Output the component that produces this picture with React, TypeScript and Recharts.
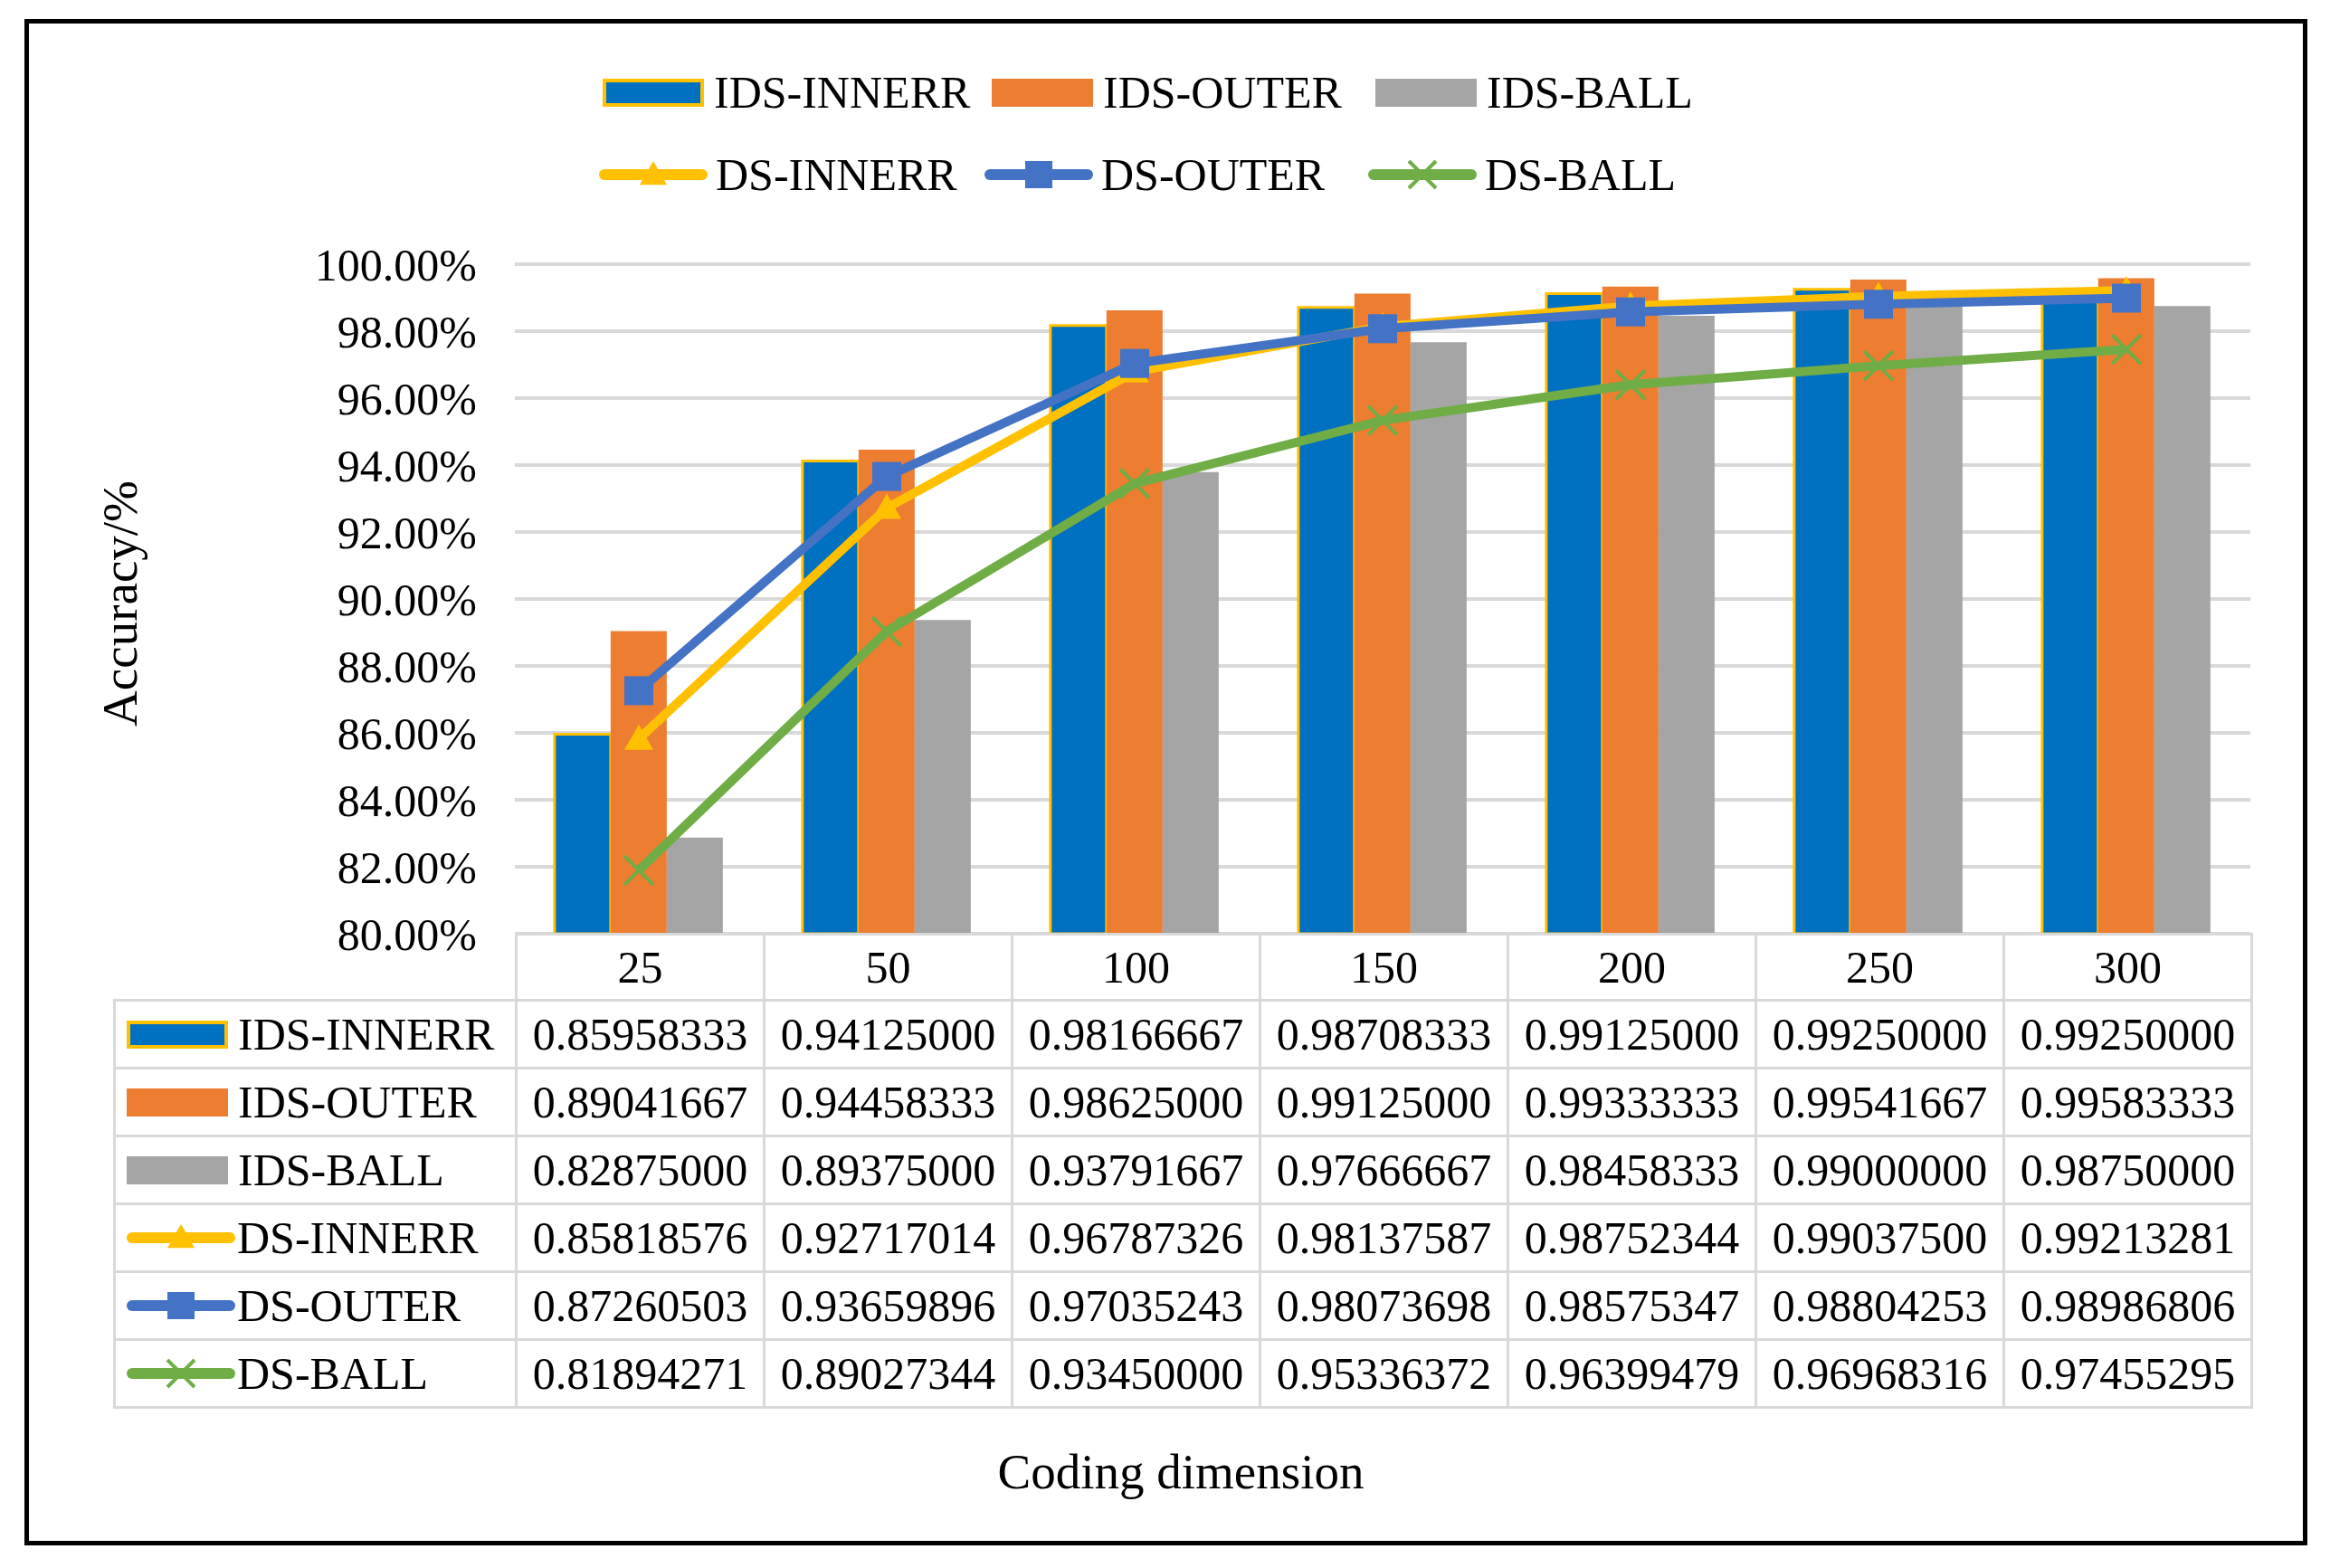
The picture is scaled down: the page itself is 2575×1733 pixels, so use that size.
import React from "react";
import { ComposedChart, Bar, Line, XAxis, YAxis, CartesianGrid } from "recharts";

// coding dimensions (x categories)
const categories = ["25", "50", "100", "150", "200", "250", "300"];

// bar series
const idsInnerr = [0.85958333, 0.94125, 0.98166667, 0.98708333, 0.99125, 0.9925, 0.9925];
const idsOuter = [0.89041667, 0.94458333, 0.98625, 0.99125, 0.99333333, 0.99541667, 0.99583333];
const idsBall = [0.82875, 0.89375, 0.93791667, 0.97666667, 0.98458333, 0.99, 0.9875];

// line series
const dsInnerr = [0.85818576, 0.92717014, 0.96787326, 0.98137587, 0.98752344, 0.990375, 0.99213281];
const dsOuter = [0.87260503, 0.93659896, 0.97035243, 0.98073698, 0.98575347, 0.98804253, 0.98986806];
const dsBall = [0.81894271, 0.89027344, 0.9345, 0.95336372, 0.96399479, 0.96968316, 0.97455295];

const yTicks = [0.8, 0.82, 0.84, 0.86, 0.88, 0.9, 0.92, 0.94, 0.96, 0.98, 1.0];

const FONT = '"Liberation Serif", "Times New Roman", serif';

const data = categories.map((dim, i) => ({
  dim,
  idsInnerr: idsInnerr[i],
  idsOuter: idsOuter[i],
  idsBall: idsBall[i],
  dsInnerr: dsInnerr[i],
  dsOuter: dsOuter[i],
  dsBall: dsBall[i],
}));

type Marker = "bar" | "triangle" | "square" | "cross";

const series = [
  { key: "idsInnerr", name: "IDS-INNERR", values: idsInnerr, color: "#0070C0", marker: "bar" as Marker, edge: "#FFC000" },
  { key: "idsOuter", name: "IDS-OUTER", values: idsOuter, color: "#ED7D31", marker: "bar" as Marker },
  { key: "idsBall", name: "IDS-BALL", values: idsBall, color: "#A5A5A5", marker: "bar" as Marker },
  { key: "dsInnerr", name: "DS-INNERR", values: dsInnerr, color: "#FFC000", marker: "triangle" as Marker },
  { key: "dsOuter", name: "DS-OUTER", values: dsOuter, color: "#4472C4", marker: "square" as Marker },
  { key: "dsBall", name: "DS-BALL", values: dsBall, color: "#70AD47", marker: "cross" as Marker },
];

const markerShape = (marker: Marker, cx: number, cy: number, color: string, s: number) => {
  if (marker === "triangle") {
    return <path d={`M${cx},${cy - s} L${cx + s},${cy + s * 0.75} L${cx - s},${cy + s * 0.75} Z`} fill={color} />;
  }
  if (marker === "square") {
    return <rect x={cx - s} y={cy - s} width={s * 2} height={s * 2} fill={color} />;
  }
  return (
    <path
      d={`M${cx - s},${cy - s} L${cx + s},${cy + s} M${cx - s},${cy + s} L${cx + s},${cy - s}`}
      stroke={color}
      strokeWidth={4}
      fill="none"
    />
  );
};

const makeDot = (marker: Marker, color: string) => (props: any) => {
  const { cx, cy, index } = props;
  if (cx == null || cy == null) return <g key={`d-${index}`} />;
  return <g key={`d-${marker}-${index}`}>{markerShape(marker, cx, cy, color, 16)}</g>;
};

const Swatch = ({ s }: { s: (typeof series)[number] }) => {
  if (s.marker === "bar") {
    return (
      <div
        style={{
          width: 112,
          height: 31,
          boxSizing: "border-box",
          background: s.color,
          border: s.edge ? `4px solid ${s.edge}` : "none",
          flex: "none",
        }}
      />
    );
  }
  return (
    <svg width={120} height={40} style={{ flex: "none", display: "block" }}>
      <line x1={6} y1={20} x2={114} y2={20} stroke={s.color} strokeWidth={12} strokeLinecap="round" />
      {markerShape(s.marker, 60, 20, s.color, 15)}
    </svg>
  );
};

const LegendItem = ({ s, left, cy }: { s: (typeof series)[number]; left: number; cy: number }) => (
  <div
    style={{
      position: "absolute",
      left,
      top: cy - 30,
      height: 60,
      display: "flex",
      alignItems: "center",
      gap: s.marker === "bar" ? 11 : 9,
      fontFamily: FONT,
      fontSize: 50,
      color: "#000",
      whiteSpace: "nowrap",
    }}
  >
    <Swatch s={s} />
    <span>{s.name}</span>
  </div>
);

const legendX = [666, 1096, 1520];
const lineLegendX = [662, 1088, 1512];

const cellBorder = "3px solid #D9D9D9";

export default function App() {
  return (
    <div
      style={{
        position: "absolute",
        left: 0,
        top: 0,
        width: 2575,
        height: 1733,
        background: "#fff",
        overflow: "hidden",
      }}
    >
      <div
        style={{
          position: "absolute",
          left: 27,
          top: 21,
          width: 2523,
          height: 1687,
          border: "5px solid #000",
          boxSizing: "border-box",
        }}
      />

      {series.slice(0, 3).map((s, i) => (
        <LegendItem key={s.key} s={s} left={legendX[i]} cy={102} />
      ))}
      {series.slice(3).map((s, i) => (
        <LegendItem key={s.key} s={s} left={lineLegendX[i]} cy={193} />
      ))}

      <div style={{ position: "absolute", left: 0, top: 0 }}>
        <ComposedChart
          width={2575}
          height={1100}
          data={data}
          margin={{ top: 292, right: 88, bottom: 68, left: 369 }}
          barCategoryGap="16%"
          barGap={0}
        >
          <CartesianGrid vertical={false} stroke="#D9D9D9" strokeWidth={4} />
          <XAxis dataKey="dim" hide />
          <YAxis
            width={200}
            domain={[0.8, 1]}
            ticks={yTicks}
            allowDataOverflow
            axisLine={false}
            tickLine={false}
            tickMargin={36}
            tickFormatter={(v: number) => `${(v * 100).toFixed(2)}%`}
            tick={{ fontSize: 50, fill: "#000", fontFamily: FONT }}
          />
          {series
            .filter((s) => s.marker === "bar")
            .map((s) => (
              <Bar
                key={s.key}
                dataKey={s.key}
                name={s.name}
                fill={s.color}
                stroke={s.edge || "none"}
                strokeWidth={s.edge ? 3 : 0}
                isAnimationActive={false}
              />
            ))}
          {series
            .filter((s) => s.marker !== "bar")
            .map((s) => (
              <Line
                key={s.key}
                dataKey={s.key}
                name={s.name}
                type="linear"
                stroke={s.color}
                strokeWidth={10}
                dot={makeDot(s.marker, s.color)}
                activeDot={false}
                isAnimationActive={false}
              />
            ))}
        </ComposedChart>
      </div>

      <div
        style={{
          position: "absolute",
          left: 132,
          top: 667,
          transform: "translate(-50%, -50%) rotate(-90deg)",
          fontFamily: FONT,
          fontSize: 55,
          color: "#000",
          whiteSpace: "nowrap",
        }}
      >
        Accuracy/%
      </div>

      <table
        style={{
          position: "absolute",
          left: 125,
          top: 1031,
          borderCollapse: "collapse",
          tableLayout: "fixed",
          width: 2362,
          fontFamily: FONT,
          fontSize: 50,
          lineHeight: "56px",
          color: "#000",
        }}
      >
        <colgroup>
          <col style={{ width: 444 }} />
          {categories.map((c) => (
            <col key={c} style={{ width: 274 }} />
          ))}
        </colgroup>
        <tbody>
          <tr style={{ height: 73 }}>
            <td style={{ border: "none", borderBottom: cellBorder, borderRight: cellBorder, padding: 0 }} />
            {categories.map((c) => (
              <td key={c} style={{ border: cellBorder, textAlign: "center", padding: 0 }}>
                {c}
              </td>
            ))}
          </tr>
          {series.map((s) => (
            <tr key={s.key} style={{ height: 75 }}>
              <td style={{ border: cellBorder, padding: "0 0 0 12px" }}>
                <div style={{ display: "flex", alignItems: "center", gap: s.marker === "bar" ? 11 : 2, whiteSpace: "nowrap" }}>
                  <Swatch s={s} />
                  <span>{s.name}</span>
                </div>
              </td>
              {s.values.map((v, i) => (
                <td key={i} style={{ border: cellBorder, textAlign: "center", padding: 0 }}>
                  {v.toFixed(8)}
                </td>
              ))}
            </tr>
          ))}
        </tbody>
      </table>

      <div
        style={{
          position: "absolute",
          left: 1305,
          top: 1626,
          transform: "translate(-50%, -50%)",
          fontFamily: FONT,
          fontSize: 55,
          color: "#000",
          whiteSpace: "nowrap",
        }}
      >
        Coding dimension
      </div>
    </div>
  );
}
